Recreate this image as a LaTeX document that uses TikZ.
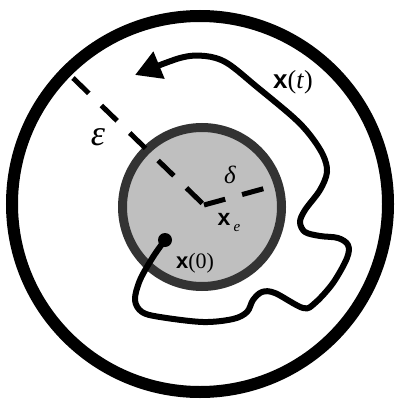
\documentclass[tikz,border=0pt]{standalone}
\usepackage{fontspec}
\setmainfont{Liberation Serif}
\newfontfamily\sansx{Liberation Sans}
\usetikzlibrary{arrows.meta}
\newcommand{\bx}{{\sansx\bfseries x}}

\begin{document}
\begin{tikzpicture}[x=1pt, y=-1pt,
  every node/.style={inner sep=0pt},
  radial/.style={line width=5pt, dash pattern=on 22pt off 17.5pt},
  traj/.style={line width=6pt, line join=round, -{Triangle[length=26pt, width=28pt]}},
  lbl/.style={font=\fontsize{#1}{#1}\selectfont}]

\useasboundingbox (0,0) rectangle (394,401);

\draw[line width=12pt] (200,204) circle[radius=188pt];
\draw[line width=9pt, draw=black!80, fill=black!25] (202,207) circle[radius=79.5pt];

\coordinate (xe) at (204,205);
\coordinate (eps) at (73,78);
\coordinate (del) at (266,188);
\coordinate (tip) at (135,75);

\draw[radial] (eps) -- (xe);
\draw[radial] (xe) -- (del);

\node[circle, fill=black, minimum size=14pt] (x0) at (165,240) {};

\draw[traj] plot[smooth, tension=0.55] coordinates {(x0) (153,257) (140,280) (135,300) (142,312) (160,317)
  (203,322) (233,319) (247,312) (253,300) (262,292) (275,293) (303,308) (315,303) (333,283)
  (347,258) (348,245) (338,238) (320,236) (305,232) (300,222) (305,210) (320,190) (327,172)
  (323,155) (310,135) (293,117) (257,87) (227,63) (205,56) (180,58) (tip)};

\node[lbl=36] (ne) at (98,137) {\textit{ε}};
\node[lbl=25] (nd) at (230,175) {\textit{δ}};
\node[lbl=23] (nxe) at (224,219) {\bx};
\node[lbl=15] (ns) at (237,228) {\textit{e}};
\node[lbl=22] (n0) at (195,263) {\bx(0)};
\node[lbl=26] (nt) at (293,82) {\bx(\textit{t})};

\end{tikzpicture}
\end{document}
